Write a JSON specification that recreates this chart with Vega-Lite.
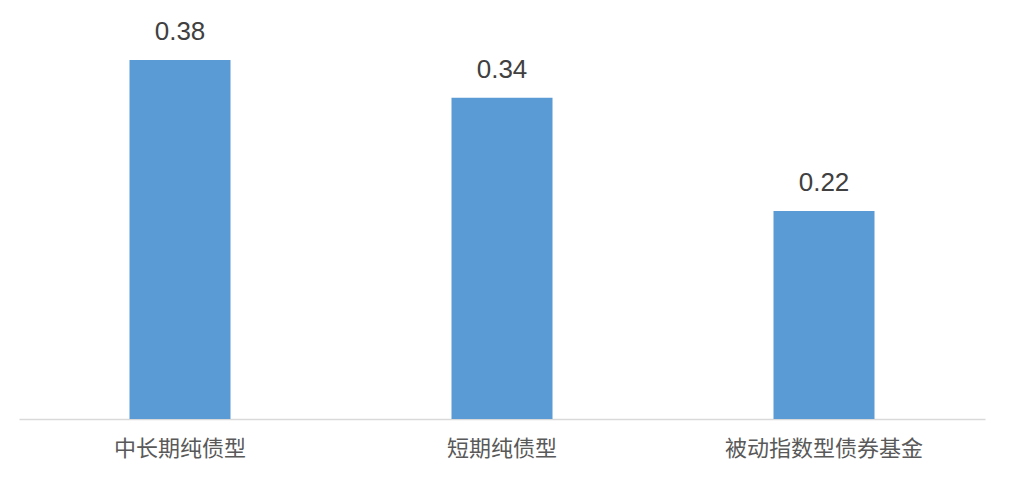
{
  "$schema": "https://vega.github.io/schema/vega-lite/v6.json",
  "autosize": {"type": "none"},
  "padding": {"left": 19, "right": 25, "top": 41, "bottom": 62},
  "width": 966,
  "height": 378,
  "background": "white",
  "config": {"view": {"stroke": null}},
  "data": {"values": [
    {"category": "中长期纯债型", "value": 0.38},
    {"category": "短期纯债型", "value": 0.34},
    {"category": "被动指数型债券基金", "value": 0.22}
  ]},
  "encoding": {
    "x": {"field": "category", "type": "nominal", "sort": null,
      "scale": {"paddingInner": 0, "paddingOuter": 0},
      "axis": {"title": null, "labelAngle": 0, "ticks": false, "domainColor": "#d9d9d9", "domainWidth": 1.5, "labelLimit": 0,
        "labelFont": "Liberation Sans, Noto Sans CJK SC", "labelFontSize": 22, "labelColor": "#595959", "labelPadding": 19}},
    "y": {"field": "value", "type": "quantitative", "scale": {"domain": [0, 0.4]}, "axis": null}
  },
  "layer": [
    {"mark": {"type": "bar", "color": "#5b9bd5", "size": 101}},
    {"mark": {"type": "text", "baseline": "alphabetic", "dy": -20, "fontSize": 26, "color": "#404040", "font": "Liberation Sans, Noto Sans CJK SC"},
      "encoding": {"text": {"field": "value", "type": "quantitative", "format": ".2f"}}}
  ]
}
